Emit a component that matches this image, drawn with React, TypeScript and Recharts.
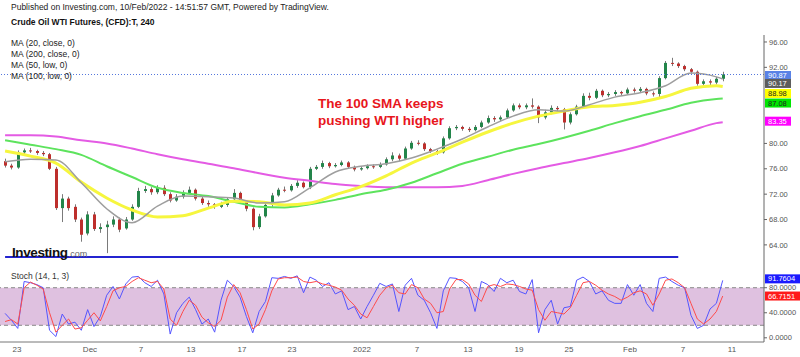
import React from "react";
import { ComposedChart, Bar, Line, XAxis, YAxis, ReferenceLine, ReferenceArea } from "recharts";

const FONT = '"Liberation Sans", Arial, Helvetica, sans-serif';

// candles, two per trading day (slot index = position on the x axis)
const opens = [
  77.2, 76.5, 76.2, 78.6, 78.9, 78.8, 78.5, 78.3, 76.0, 69.8,
  71.3, 70.0, 68.0, 65.8, 68.8, 66.5, 66.8, 67.2, 68.0, 66.6,
  68.0, 70.0, 72.5, 72.8, 72.3, 73.0, 72.0, 71.0, 71.6, 72.2,
  72.7, 71.3, 70.6, 70.4, 70.0, 70.3, 71.2, 72.2, 70.8, 69.7,
  66.8, 68.5, 70.3, 71.8, 72.7, 72.6, 73.3, 73.8, 73.1, 76.0,
  76.3, 76.9, 76.4, 76.6, 77.0, 76.3, 75.9, 76.1, 76.4, 76.3,
  76.7, 77.5, 78.1, 77.6, 79.2, 80.1, 80.0, 79.1, 78.8, 78.6,
  80.8, 82.4, 82.6, 82.3, 82.1, 82.6, 83.3, 84.0, 83.8, 84.1,
  85.2, 86.0, 85.7, 86.0, 85.8, 84.1, 84.9, 85.6, 85.4, 83.3,
  84.6, 85.8, 87.5, 87.2, 88.3, 87.6, 87.8, 88.1, 87.9, 88.5,
  88.3, 88.6, 87.9, 87.8, 90.3, 92.7, 92.6, 92.2, 91.7, 91.3,
  89.4, 89.8, 89.6, 90.2,
];
const highs = [
  77.6, 76.8, 78.9, 79.2, 79.3, 79.0, 78.8, 78.5, 76.3, 72.0,
  71.6, 70.4, 68.3, 69.3, 69.2, 67.4, 67.8, 68.5, 68.3, 68.4,
  70.4, 73.0, 73.3, 73.1, 73.4, 73.4, 72.3, 72.0, 72.6, 73.2,
  72.9, 71.6, 71.0, 70.6, 70.8, 71.5, 72.8, 72.4, 71.0, 69.9,
  68.9, 70.6, 72.2, 73.0, 73.2, 73.6, 74.2, 74.0, 76.3, 76.6,
  77.3, 77.1, 76.9, 77.3, 77.2, 76.5, 76.4, 76.7, 76.7, 77.0,
  77.8, 78.6, 78.4, 79.5, 80.4, 80.5, 80.2, 79.3, 79.0, 81.1,
  82.7, 82.9, 82.8, 82.6, 82.9, 83.6, 84.4, 84.3, 84.4, 85.5,
  86.3, 86.3, 86.3, 87.1, 86.0, 85.3, 86.0, 85.9, 85.6, 84.9,
  86.1, 87.9, 88.0, 88.6, 88.5, 88.1, 88.4, 88.3, 88.8, 88.8,
  88.9, 88.8, 88.2, 90.6, 93.0, 93.5, 92.8, 92.4, 91.9, 91.5,
  90.1, 90.1, 90.5, 91.3,
];
const lows = [
  76.2, 75.9, 76.0, 78.3, 78.5, 78.2, 78.0, 75.8, 69.5, 67.6,
  69.4, 67.6, 64.5, 65.5, 66.2, 65.9, 62.7, 66.8, 66.0, 66.4,
  67.8, 69.8, 72.2, 71.9, 72.0, 71.7, 70.7, 70.8, 71.3, 72.0,
  71.0, 70.3, 70.0, 69.7, 69.8, 70.0, 71.0, 70.5, 69.3, 66.3,
  66.5, 68.3, 70.0, 71.6, 72.3, 72.4, 73.0, 72.9, 72.8, 75.8,
  76.0, 76.1, 76.2, 76.4, 76.0, 75.6, 75.7, 75.9, 76.0, 76.1,
  76.5, 77.2, 77.2, 77.4, 79.0, 79.7, 78.8, 78.5, 78.2, 78.4,
  80.6, 82.1, 82.0, 81.8, 81.9, 82.4, 83.1, 83.4, 83.5, 83.9,
  85.0, 85.4, 85.4, 85.5, 83.2, 83.8, 84.6, 85.0, 82.2, 83.0,
  84.4, 85.6, 86.8, 87.0, 87.3, 87.3, 87.5, 87.6, 87.7, 88.0,
  88.0, 87.6, 87.4, 87.2, 90.1, 92.2, 91.9, 91.4, 91.0, 89.1,
  89.0, 89.2, 89.3, 89.8,
];
const closes = [
  76.5, 76.2, 78.6, 78.9, 78.8, 78.5, 78.3, 76.0, 69.8, 71.3,
  69.8, 68.0, 65.6, 68.8, 66.5, 66.8, 67.2, 68.0, 66.4, 68.0,
  70.0, 72.5, 72.8, 72.3, 73.0, 72.0, 71.0, 71.6, 72.2, 72.7,
  71.3, 70.6, 70.4, 70.0, 70.3, 71.2, 72.2, 70.8, 69.7, 66.8,
  68.5, 70.3, 71.8, 72.7, 72.6, 73.3, 73.8, 73.1, 76.0, 76.3,
  76.9, 76.4, 76.6, 77.0, 76.3, 75.9, 76.1, 76.4, 76.3, 76.7,
  77.5, 78.1, 77.6, 79.2, 80.1, 80.0, 79.1, 78.8, 78.6, 80.8,
  82.4, 82.6, 82.3, 82.1, 82.6, 83.3, 84.0, 83.8, 84.1, 85.2,
  86.0, 85.7, 86.0, 85.8, 84.1, 84.9, 85.6, 85.4, 83.3, 84.6,
  85.8, 87.5, 87.2, 88.3, 87.6, 87.8, 88.1, 87.9, 88.5, 88.3,
  88.6, 87.9, 87.8, 90.3, 92.7, 92.6, 92.2, 91.7, 91.3, 89.4,
  89.8, 89.6, 90.2, 90.87,
];

// moving averages, read every 4th slot
const maIdx = [0, 4, 8, 12, 16, 20, 24, 28, 32, 36, 40, 44, 48, 52, 56, 60, 64, 68, 72, 76, 80, 84, 88, 92, 96, 100, 104, 108, 112, 113];
const ma20 = [77.1, 77.5, 77.4, 73.8, 69.7, 67.5, 70.1, 71.7, 71.6, 71.4, 70.6, 70.8, 73.0, 75.5, 76.4, 76.8, 77.7, 79.1, 80.7, 82.6, 84.3, 85.3, 85.1, 86.1, 87.3, 88.0, 89.1, 91.1, 90.5, 90.17];
const ma50 = [78.8, 78.0, 76.9, 73.9, 71.4, 69.5, 68.4, 68.6, 69.8, 70.9, 70.8, 70.3, 70.6, 71.9, 73.2, 74.9, 76.9, 78.5, 80.2, 81.8, 83.2, 84.3, 85.1, 85.8, 86.0, 86.5, 87.4, 88.7, 89.1, 88.98];
const ma100 = [80.5, 79.8, 79.1, 78.2, 76.4, 74.7, 73.0, 72.2, 71.7, 70.8, 70.0, 69.9, 70.4, 71.1, 72.0, 72.7, 73.8, 75.3, 76.8, 77.9, 79.0, 79.9, 80.9, 82.0, 83.2, 84.3, 85.3, 86.4, 87.0, 87.08];
const ma200 = [81.3, 81.3, 81.1, 80.5, 80.0, 79.2, 78.3, 77.5, 76.8, 76.1, 75.3, 74.6, 74.1, 73.6, 73.3, 73.1, 73.1, 73.1, 73.3, 74.2, 75.2, 76.1, 76.9, 77.7, 78.6, 79.6, 80.8, 82.0, 83.2, 83.35];

// stochastic (14, 1, 3)
const stochK = [
  39, 28, 15, 90, 88, 85, 80, 12, 2, 38,
  22, 25, 12, 45, 18, 34, 68, 82, 62, 86,
  97, 98, 88, 82, 92, 70, 6, 40, 55, 65,
  45, 22, 30, 9, 60, 92, 82, 65, 34, 8,
  42, 58, 96, 95, 98, 95, 99, 72, 97, 92,
  82, 88, 70, 75, 45, 50, 30, 50, 68, 87,
  82, 86, 42, 84, 95, 68, 60, 40, 15, 75,
  96, 95, 90, 80, 42, 90, 85, 74, 95, 88,
  92, 74, 70, 93, 8, 45, 60, 22, 48, 50,
  92, 97, 90, 70, 75, 60, 55, 55, 85, 68,
  85, 55, 42, 95, 97, 90, 84, 80, 36, 15,
  20, 46, 55, 91.7604,
];
const stochD = [
  26, 29, 22, 80, 89, 84, 78, 40, 9, 20,
  30, 14, 16, 28, 40, 27, 50, 75, 80, 82,
  90, 96, 92, 88, 90, 78, 30, 20, 42, 60,
  52, 33, 24, 18, 28, 65, 85, 72, 45, 14,
  22, 45, 75, 94, 96, 96, 97, 90, 88, 90,
  86, 84, 81, 76, 62, 52, 38, 32, 50, 68,
  80, 84, 72, 70, 85, 80, 62, 55, 40, 42,
  78, 93, 93, 86, 68, 58, 82, 85, 82, 86,
  85, 82, 78, 76, 45, 28, 42, 40, 38, 48,
  68, 88, 90, 84, 76, 70, 66, 60, 65, 72,
  75, 70, 52, 70, 92, 94, 88, 80, 55, 30,
  22, 30, 42, 66.7151,
];

// date ticks (slot positions)
const tickIdx = [1.88, 13.37, 21.4, 29.27, 37.3, 45.18, 56.2, 64.86, 72.89, 80.92, 88.79, 98.4, 106.74, 114.46];
const tickLabels = ["23", "Dec", "7", "13", "17", "23", "2022", "7", "13", "19", "25", "Feb", "7", "11"];

const lastPrice = 90.87;
const supportLevel = 62.1;
const supportEnd = 106;

const priceData: any[] = opens.map((o, i) => ({ i, o, h: highs[i], l: lows[i], c: closes[i] }));
maIdx.forEach((idx, k) => {
  Object.assign(priceData[idx], { ma20: ma20[k], ma50: ma50[k], ma100: ma100[k], ma200: ma200[k] });
});
const stochData = stochK.map((k, i) => ({ i, k, d: stochD[i] }));

const X_DOMAIN: [number, number] = [-0.8, 119.5];

const Candle = (props: any) => {
  const { x, y, width, height, payload } = props;
  if (!payload || x == null) return null;
  const top = Math.min(y, y + height);
  const hh = Math.abs(height);
  const span = payload.h - payload.l || 1;
  const py = (p: number) => top + ((payload.h - p) / span) * hh;
  const up = payload.c >= payload.o;
  const color = up ? "#23854a" : "#bd2f2c";
  const cx = Math.round(x + width / 2) + 0.5;
  const bTop = py(Math.max(payload.o, payload.c));
  const bBot = py(Math.min(payload.o, payload.c));
  return (
    <g>
      <line x1={cx} x2={cx} y1={top} y2={top + hh} stroke="#7a7a7a" strokeWidth={1} />
      <rect x={cx - 1.5} y={bTop} width={3} height={Math.max(1, bBot - bTop)} fill={color} />
    </g>
  );
};

const tag = (text: string, bg: string, fg: string, nudge: number, w: number) => (props: any) => {
  const vb = props.viewBox;
  if (!vb) return null;
  const x0 = vb.x + vb.width + 1;
  const yc = vb.y + nudge;
  return (
    <g>
      <rect x={x0} y={yc - 4.5} width={w} height={9} fill={bg} />
      <text x={x0 + 3} y={yc} dy="0.35em" fontSize={7.5} fill={fg} fontFamily={FONT}>
        {text}
      </text>
    </g>
  );
};

const priceTags = [
  { v: 90.17, bg: "#5d5d5d", fg: "#fff", nudge: 4.5 },
  { v: 88.98, bg: "#ffff00", fg: "#222", nudge: 7 },
  { v: 87.08, bg: "#00e600", fg: "#222", nudge: 4.5 },
  { v: 83.35, bg: "#ff00ff", fg: "#fff", nudge: -1 },
];

const axisTick = { fontSize: 7.5, fill: "#555", fontFamily: FONT };

export default function App() {
  return (
    <div style={{ position: "fixed", left: 0, top: 0, width: 800, height: 357, background: "#fff", overflow: "hidden", fontFamily: FONT }}>
      <div style={{ position: "absolute", left: 0, top: 0 }}>
        <ComposedChart width={800} height={266} data={priceData} margin={{ top: 35, right: 0, bottom: 0, left: 0 }}>
          <XAxis type="number" dataKey="i" domain={X_DOMAIN} hide allowDataOverflow />
          <YAxis
            orientation="right"
            width={36}
            domain={[60.67, 97.1]}
            ticks={[64, 68, 72, 76, 80, 92, 96]}
            tickFormatter={(v: number) => v.toFixed(2)}
            tick={axisTick}
            tickSize={3}
            tickMargin={2}
            axisLine={{ stroke: "#666" }}
            tickLine={{ stroke: "#666" }}
            allowDataOverflow
          />
          <ReferenceLine
            segment={[{ x: 0, y: supportLevel }, { x: supportEnd, y: supportLevel }]}
            stroke="#2424d0"
            strokeWidth={2}
          />
          <Line dataKey="ma200" stroke="#e45be4" strokeWidth={2} dot={false} connectNulls type="monotone" isAnimationActive={false} />
          <Line dataKey="ma100" stroke="#5de35d" strokeWidth={2} dot={false} connectNulls type="monotone" isAnimationActive={false} />
          <Line dataKey="ma50" stroke="#f6f63e" strokeWidth={3} dot={false} connectNulls type="monotone" isAnimationActive={false} />
          <Line dataKey="ma20" stroke="#9e9e9e" strokeWidth={1.5} dot={false} connectNulls type="monotone" isAnimationActive={false} />
          <Bar
            dataKey={(d: any) => [d.l, d.h]}
            barSize={4}
            shape={(p: any) => <Candle {...p} />}
            isAnimationActive={false}
          />
          <ReferenceLine y={lastPrice} stroke="#5577dd" strokeDasharray="1 2" label={tag(lastPrice.toFixed(2), "#5a82e6", "#fff", 1, 26)} />
          {priceTags.map((t) => (
            <ReferenceLine key={t.v} y={t.v} stroke="none" label={tag(t.v.toFixed(2), t.bg, t.fg, t.nudge, 26)} />
          ))}
        </ComposedChart>
      </div>

      <div style={{ position: "absolute", left: 0, top: 266 }}>
        <ComposedChart width={800} height={91} data={stochData} margin={{ top: 0, right: 0, bottom: 0, left: 0 }}>
          <XAxis
            xAxisId="b"
            type="number"
            dataKey="i"
            domain={X_DOMAIN}
            ticks={tickIdx}
            interval={0}
            tickFormatter={(v: number) => tickLabels[tickIdx.indexOf(v)] ?? ""}
            height={15}
            tick={{ ...axisTick, fontSize: 8 }}
            tickLine={false}
            tickSize={0}
            tickMargin={4}
            axisLine={{ stroke: "#777" }}
            allowDataOverflow
          />
          <XAxis xAxisId="t" orientation="top" type="number" dataKey="i" domain={X_DOMAIN} height={0} tick={false} tickLine={false} axisLine={{ stroke: "#999" }} allowDataOverflow />
          <YAxis
            orientation="right"
            width={36}
            domain={[-6.7, 114.7]}
            ticks={[0, 40, 80]}
            tickFormatter={(v: number) => v.toFixed(4)}
            tick={axisTick}
            tickSize={3}
            tickMargin={2}
            axisLine={{ stroke: "#666" }}
            tickLine={{ stroke: "#666" }}
            allowDataOverflow
          />
          <ReferenceArea xAxisId="b" y1={20} y2={80} fill="#dfc1e0" fillOpacity={1} stroke="none" />
          <ReferenceLine xAxisId="b" y={80} stroke="#888" strokeDasharray="4 3" />
          <ReferenceLine xAxisId="b" y={20} stroke="#888" strokeDasharray="4 3" />
          <Line xAxisId="b" dataKey="k" stroke="#5555ff" strokeWidth={1} dot={false} isAnimationActive={false} />
          <Line xAxisId="b" dataKey="d" stroke="#ff4b4b" strokeWidth={1} dot={false} isAnimationActive={false} />
          <ReferenceLine xAxisId="b" y={stochK[stochK.length - 1]} stroke="none" label={tag(stochK[stochK.length - 1].toFixed(4), "#1a1aff", "#fff", -1.5, 36)} />
          <ReferenceLine xAxisId="b" y={stochD[stochD.length - 1]} stroke="none" label={tag(stochD[stochD.length - 1].toFixed(4), "#ff1a1a", "#fff", 0, 36)} />
        </ComposedChart>
      </div>

      <div style={{ position: "absolute", left: 11, top: 2, fontSize: 8.5, color: "#222", whiteSpace: "nowrap" }}>
        Published on Investing.com, 10/Feb/2022 - 14:51:57 GMT, Powered by TradingView.
      </div>
      <div style={{ position: "absolute", left: 11, top: 17, fontSize: 8.5, fontWeight: 700, color: "#111", whiteSpace: "nowrap" }}>
        Crude Oil WTI Futures, (CFD):T, 240
      </div>
      <div style={{ position: "absolute", left: 11, top: 38, fontSize: 8.5, lineHeight: "11px", color: "#222", whiteSpace: "nowrap" }}>
        <div>MA (20, close, 0)</div>
        <div>MA (200, close, 0)</div>
        <div>MA (50, low, 0)</div>
        <div>MA (100, low, 0)</div>
      </div>
      <div style={{ position: "absolute", left: 318, top: 95, fontSize: 13.5, lineHeight: "17px", fontWeight: 700, color: "#e8161c", whiteSpace: "nowrap" }}>
        The 100 SMA keeps
        <br />
        pushing WTI higher
      </div>
      <div style={{ position: "absolute", left: 12, top: 243, whiteSpace: "nowrap", color: "#111" }}>
        <span style={{ fontSize: 13.5, fontWeight: 700, letterSpacing: -0.4 }}>Investing</span>
        <span style={{ fontSize: 9, color: "#666" }}>.com</span>
      </div>
      <div style={{ position: "absolute", left: 11, top: 271, fontSize: 8.5, color: "#333", whiteSpace: "nowrap" }}>
        Stoch (14, 1, 3)
      </div>
    </div>
  );
}
